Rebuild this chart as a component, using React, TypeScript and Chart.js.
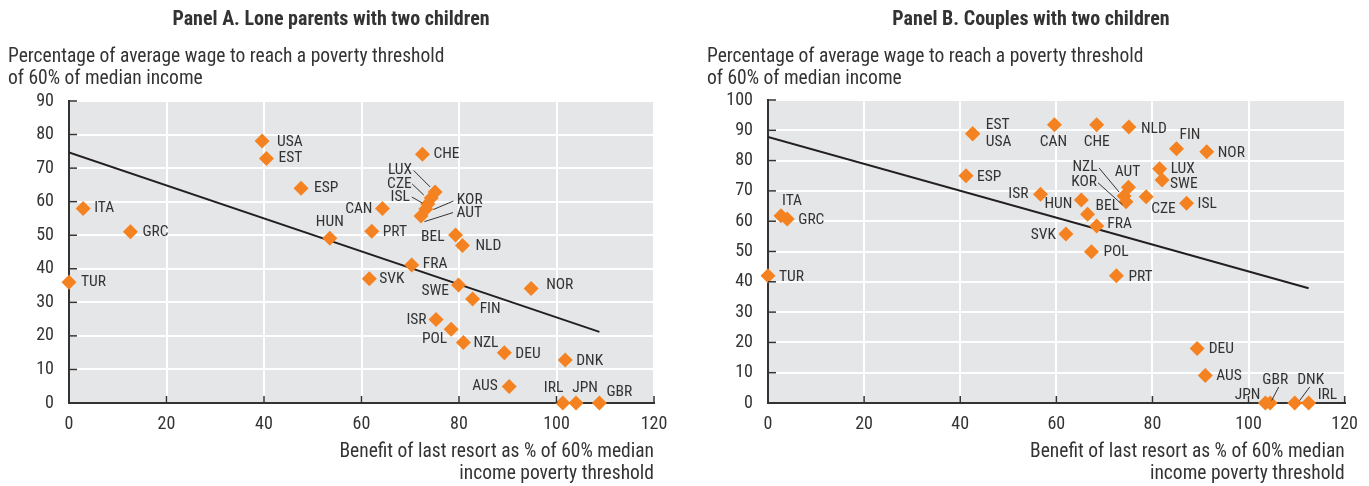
import React, { useEffect, useRef } from "react";
import { Chart, registerables } from "chart.js";

Chart.register(...registerables);

// ---------- Panel A: Lone parents with two children ----------
const countriesA = ["USA","EST","ESP","CHE","LUX","CZE","ISL","KOR","AUT","CAN","HUN","PRT","BEL","NLD","FRA","SVK","SWE","FIN","NOR","ISR","POL","NZL","DEU","DNK","AUS","IRL","JPN","GBR","ITA","GRC","TUR"];
const benefitA = [39.6,40.5,47.6,72.5,75.1,74.3,73.6,73.2,72.2,64.3,53.5,62.1,79.3,80.7,70.3,61.6,79.9,82.8,94.8,75.3,78.4,80.9,89.3,101.8,90.3,101.3,104.0,108.8,2.9,12.6,0];
const wageA = [78.1,72.9,64.0,74.1,62.9,61.1,59.3,57.8,55.7,58.0,49.1,51.2,50.1,46.9,41.1,37.0,35.2,31.0,34.1,24.9,22.0,18.0,15.0,12.8,4.9,0,0,0,58.0,51.0,36.0];
const trendA = [{ x: 0, y: 74.7 }, { x: 108.8, y: 21.2 }];

// ---------- Panel B: Couples with two children ----------
const countriesB = ["EST","USA","CAN","CHE","NLD","FIN","NOR","LUX","SWE","AUT","NZL","KOR","HUN","BEL","FRA","CZE","ISL","ESP","ISR","SVK","POL","PRT","ITA","GRC","TUR","DEU","AUS","JPN","GBR","DNK","IRL"];
const benefitB = [42.6,42.6,59.6,68.4,75.1,85.0,91.3,81.5,82.0,75.0,74.1,74.5,65.2,66.5,68.4,78.7,87.1,41.2,56.7,62.0,67.3,72.5,2.7,4.0,0,89.3,91.0,103.5,104.5,109.6,112.5];
const wageB = [88.9,88.9,91.8,91.8,91.1,83.9,82.9,77.3,73.6,71.2,68.3,66.4,67.0,62.3,58.4,68.1,65.9,75.0,68.9,55.8,49.9,42.0,61.8,60.7,42.0,18.0,9.1,0,0,0,0];
const trendB = [{ x: 0, y: 87.8 }, { x: 112.5, y: 37.9 }];

// Tick labels
const xTicks = [0, 20, 40, 60, 80, 100, 120];
const yTicksA = [0, 10, 20, 30, 40, 50, 60, 70, 80, 90];
const yTicksB = [0, 10, 20, 30, 40, 50, 60, 70, 80, 90, 100];

const titleA = "Panel A. Lone parents with two children";
const titleB = "Panel B. Couples with two children";
const yTitle = ["Percentage of average wage to reach a poverty threshold", "of 60% of median income"];
const xTitle = ["Benefit of last resort as % of 60% median", "income poverty threshold"];

// Label placement: [align, dx, dy, leaderX1, leaderY1, leaderX2, leaderY2] (pixels relative to the marker)
type Place = [string, number, number, number?, number?, number?, number?];
const placeA: Record<string, Place> = {
  USA: ["left", 15, 1], EST: ["left", 12, 0], ESP: ["left", 13, 0], CHE: ["left", 11, 0],
  LUX: ["right", -23, -22, -21.5, -21.5, -5, -5],
  CZE: ["right", -19.5, -14, -19, -14, -7.5, -3],
  ISL: ["right", -18, -7, -16, -7, -5.5, -1],
  KOR: ["left", 31, -9, 27.5, -8, 7.5, 0.5],
  AUT: ["left", 35.5, -3, 32, -3.5, 3.5, 5.5],
  CAN: ["right", -10, 1], HUN: ["center", 0, -16], PRT: ["left", 11, 1], BEL: ["right", -11, 2],
  NLD: ["left", 13, 1], FRA: ["left", 11, -1], SVK: ["left", 10, 0], SWE: ["right", -9.5, 6],
  FIN: ["left", 7, 10], NOR: ["left", 15, -3], ISR: ["right", -9.5, 1], POL: ["right", -4, 10],
  NZL: ["left", 10, 1], DEU: ["left", 11, 1], DNK: ["left", 11, 1], AUS: ["right", -11.5, 0],
  IRL: ["right", 0.5, -15], JPN: ["center", 9, -15], GBR: ["left", 7, -11],
  ITA: ["left", 11, 0], GRC: ["left", 12, 0], TUR: ["left", 12, 0],
};
const placeB: Record<string, Place> = {
  EST: ["left", 13, -9], USA: ["left", 13, 8], CAN: ["center", -1, 17], CHE: ["center", 0, 17],
  NLD: ["left", 12, 2], FIN: ["left", 3, -14], NOR: ["left", 11, 1], LUX: ["left", 11, 0],
  SWE: ["left", 8, 4], AUT: ["center", -1, -15],
  NZL: ["right", -26.5, -29, -25, -28, -5, -4],
  KOR: ["right", -29, -19.5, -28, -19, -3.5, 3],
  HUN: ["right", -9, 4], BEL: ["left", 8, -8], FRA: ["left", 10.5, -2], CZE: ["left", 5, 12],
  ISL: ["left", 11, 1], ESP: ["left", 11, 1], ISR: ["right", -12, 0], SVK: ["right", -10, 1],
  POL: ["left", 12, 0], PRT: ["left", 12, 1], ITA: ["left", 1, -15], GRC: ["left", 11, 1],
  TUR: ["left", 11, 1], DEU: ["left", 11.5, 1], AUS: ["left", 11, 1], JPN: ["right", -5, -8],
  GBR: ["center", 5, -23, 8.5, -16, 1.5, -2.5],
  DNK: ["center", 16, -23, 15, -16, 5, -2.5],
  IRL: ["left", 9, -8],
};

const FONT = "'Roboto Condensed', 'Liberation Sans', sans-serif";
const TEXT = "#333333";
const ORANGE = "#F58220";
const PLOT_BG = "#E5E6E8";

function makePlugin(title: string, titleX: number, labels: string[], place: Record<string, Place>) {
  return {
    id: "decor",
    beforeDraw(chart: any) {
      const { ctx, chartArea: a } = chart;
      ctx.save();
      ctx.fillStyle = PLOT_BG;
      ctx.fillRect(a.left, a.top, a.right - a.left, a.bottom - a.top);
      ctx.restore();
    },
    afterDatasetsDraw(chart: any) {
      const { ctx } = chart;
      const meta = chart.getDatasetMeta(0);
      ctx.save();
      ctx.font = `15.5px ${FONT}`;
      ctx.fillStyle = TEXT;
      ctx.strokeStyle = TEXT;
      ctx.lineWidth = 1;
      ctx.textBaseline = "middle";
      meta.data.forEach((pt: any, i: number) => {
        const p = place[labels[i]] || ["left", 12, 0];
        const x = pt.x, y = pt.y;
        ctx.textAlign = p[0];
        ctx.fillText(labels[i], x + p[1], y + p[2]);
        if (p[3] !== undefined) {
          ctx.beginPath();
          ctx.moveTo(x + (p[3] as number), y + (p[4] as number));
          ctx.lineTo(x + (p[5] as number), y + (p[6] as number));
          ctx.stroke();
        }
      });
      ctx.restore();
    },
    afterDraw(chart: any) {
      const { ctx, chartArea: a, scales } = chart;
      ctx.save();
      // inner tick marks
      ctx.strokeStyle = TEXT;
      ctx.lineWidth = 1.5;
      scales.x.ticks.forEach((t: any) => {
        const px = scales.x.getPixelForValue(t.value);
        ctx.beginPath();
        ctx.moveTo(px, a.bottom);
        ctx.lineTo(px, a.bottom - 7);
        ctx.stroke();
      });
      scales.y.ticks.forEach((t: any) => {
        const py = scales.y.getPixelForValue(t.value);
        ctx.beginPath();
        ctx.moveTo(a.left, py);
        ctx.lineTo(a.left + 8, py);
        ctx.stroke();
      });
      // titles
      ctx.fillStyle = TEXT;
      ctx.textBaseline = "middle";
      ctx.font = `bold 20px ${FONT}`;
      ctx.textAlign = "center";
      ctx.fillText(title, titleX, 20);
      ctx.font = `19.5px ${FONT}`;
      ctx.textAlign = "left";
      ctx.fillText(yTitle[0], a.left - 61, 57);
      ctx.fillText(yTitle[1], a.left - 61, 79);
      ctx.textAlign = "right";
      ctx.fillText(xTitle[0], a.right, 452);
      ctx.fillText(xTitle[1], a.right, 474);
      ctx.restore();
    },
  };
}

function Panel(props: {
  left: number; width: number; plotLeft: number; plotRight: number; plotTop: number;
  labels: string[]; xs: number[]; ys: number[]; trend: { x: number; y: number }[];
  yTicks: number[]; title: string; titleX: number; place: Record<string, Place>;
}) {
  const ref = useRef<HTMLCanvasElement>(null);
  useEffect(() => {
    const canvas = ref.current!;
    const pts = props.xs.map((x, i) => ({ x, y: props.ys[i] }));
    const yMax = props.yTicks[props.yTicks.length - 1];
    const chart = new Chart(canvas, {
      type: "scatter",
      data: {
        datasets: [
          {
            type: "scatter",
            data: pts,
            pointStyle: "rectRot",
            pointRadius: 7.5,
            pointHoverRadius: 7.5,
            backgroundColor: ORANGE,
            borderColor: ORANGE,
            borderWidth: 0,
            clip: false,
            order: 1,
          } as any,
          {
            type: "line",
            data: props.trend,
            borderColor: "#231F20",
            borderWidth: 2,
            pointRadius: 0,
            fill: false,
            order: 2,
          } as any,
        ],
      },
      options: {
        animation: false,
        responsive: false,
        maintainAspectRatio: false,
        events: [],
        layout: { padding: { left: 0, top: props.plotTop, right: props.width - props.plotRight, bottom: 0 } },
        plugins: { legend: { display: false }, tooltip: { enabled: false }, title: { display: false } },
        scales: {
          x: {
            type: "linear",
            min: xTicks[0],
            max: xTicks[xTicks.length - 1],
            afterBuildTicks: (s: any) => { s.ticks = xTicks.map((v) => ({ value: v })); },
            afterFit: (s: any) => { s.height = 486 - 403; },
            grid: { color: "#FFFFFF", lineWidth: 2, drawTicks: false },
            border: { display: true, color: TEXT, width: 2 },
            ticks: { color: TEXT, font: { family: FONT, size: 18 }, padding: 11, maxRotation: 0 },
          },
          y: {
            type: "linear",
            min: 0,
            max: yMax,
            afterBuildTicks: (s: any) => { s.ticks = props.yTicks.map((v) => ({ value: v })); },
            afterFit: (s: any) => { s.width = props.plotLeft; },
            grid: { color: "#FFFFFF", lineWidth: 2, drawTicks: false },
            border: { display: true, color: TEXT, width: 2 },
            ticks: { color: TEXT, font: { family: FONT, size: 18 }, padding: 15 },
          },
        },
      },
      plugins: [makePlugin(props.title, props.titleX, props.labels, props.place)],
    } as any);
    return () => chart.destroy();
  }, []);
  return (
    <canvas
      ref={ref}
      width={props.width}
      height={486}
      style={{ position: "absolute", left: props.left, top: 0, width: props.width, height: 486 }}
    />
  );
}

export default function App() {
  return (
    <div style={{ position: "absolute", left: 0, top: 0, width: 1369, height: 486, background: "#fff" }}>
      <Panel left={0} width={684} plotLeft={69} plotRight={654} plotTop={101}
        labels={countriesA} xs={benefitA} ys={wageA} trend={trendA} yTicks={yTicksA}
        title={titleA} titleX={331} place={placeA} />
      <Panel left={684} width={685} plotLeft={84} plotRight={670} plotTop={100}
        labels={countriesB} xs={benefitB} ys={wageB} trend={trendB} yTicks={yTicksB}
        title={titleB} titleX={347} place={placeB} />
    </div>
  );
}
